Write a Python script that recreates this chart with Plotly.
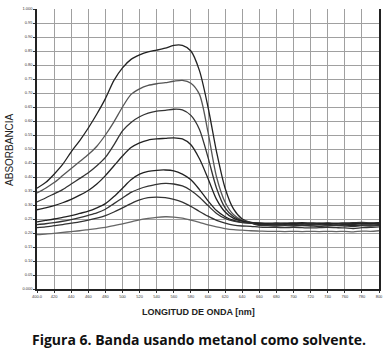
import plotly.graph_objects as go

wavelength = list(range(400, 801, 10))

c1 = [0.360,0.380,0.410,0.445,0.490,0.530,0.575,0.625,0.680,0.745,0.790,0.820,0.836,0.847,0.853,0.860,0.870,0.870,0.850,0.780,0.650,0.490,0.360,0.285,0.250,0.238,
      0.236,0.235,0.236,0.235,0.236,0.237,0.236,0.235,0.236,0.235,0.236,0.237,0.238,0.236,0.237]
c2 = [0.343,0.360,0.380,0.405,0.430,0.455,0.480,0.510,0.550,0.597,0.650,0.695,0.715,0.727,0.733,0.737,0.742,0.745,0.735,0.695,0.560,0.400,0.310,0.265,0.245,0.238,
      0.234,0.233,0.234,0.235,0.234,0.233,0.234,0.235,0.234,0.233,0.232,0.234,0.236,0.235,0.234]
c3 = [0.311,0.325,0.340,0.355,0.375,0.395,0.415,0.440,0.470,0.515,0.565,0.595,0.615,0.628,0.635,0.638,0.642,0.640,0.620,0.570,0.470,0.360,0.290,0.258,0.243,0.236,
      0.233,0.232,0.233,0.232,0.231,0.232,0.233,0.232,0.231,0.232,0.233,0.231,0.233,0.232,0.233]
c4 = [0.283,0.290,0.298,0.308,0.320,0.335,0.352,0.375,0.405,0.440,0.475,0.505,0.522,0.532,0.536,0.538,0.540,0.536,0.515,0.465,0.395,0.320,0.275,0.252,0.242,0.237,
      0.234,0.233,0.232,0.233,0.234,0.233,0.232,0.233,0.234,0.233,0.232,0.233,0.235,0.234,0.236]
c5 = [0.240,0.245,0.250,0.256,0.262,0.270,0.278,0.290,0.305,0.330,0.360,0.390,0.410,0.420,0.424,0.425,0.422,0.410,0.390,0.355,0.315,0.280,0.258,0.245,0.238,0.235,
      0.230,0.229,0.228,0.229,0.228,0.227,0.228,0.229,0.228,0.227,0.228,0.226,0.229,0.228,0.230]
c6 = [0.230,0.233,0.237,0.242,0.248,0.255,0.263,0.272,0.285,0.305,0.325,0.345,0.358,0.367,0.374,0.377,0.375,0.368,0.352,0.328,0.298,0.270,0.252,0.242,0.237,0.235,
      0.227,0.226,0.225,0.226,0.225,0.226,0.225,0.224,0.225,0.226,0.225,0.224,0.226,0.225,0.227]
c7 = [0.219,0.222,0.226,0.230,0.235,0.240,0.246,0.253,0.262,0.275,0.290,0.305,0.318,0.326,0.328,0.326,0.320,0.310,0.295,0.277,0.260,0.245,0.235,0.228,0.225,0.224,
      0.221,0.220,0.220,0.219,0.220,0.219,0.218,0.219,0.220,0.219,0.218,0.216,0.219,0.220,0.222]
c8 = [0.194,0.196,0.199,0.202,0.205,0.208,0.212,0.216,0.220,0.226,0.233,0.240,0.247,0.252,0.256,0.258,0.257,0.253,0.246,0.238,0.229,0.222,0.216,0.212,0.210,0.208,
      0.207,0.206,0.206,0.205,0.206,0.205,0.206,0.205,0.206,0.205,0.206,0.204,0.207,0.206,0.208]

series = [c1, c2, c3, c4, c5, c6, c7, c8]
colors = ["#222222", "#555555", "#333333", "#222222", "#222222", "#333333", "#333333", "#666666"]

x_ticks = list(range(400, 801, 20))
x_ticktext = ["400.0"] + [str(v) for v in x_ticks[1:]]
y_ticks = [round(i * 0.05, 2) for i in range(21)]
y_ticktext = ["0.000"] + [f"{v:.2f}" for v in y_ticks[1:-1]] + ["1.000"]

fig = go.Figure()
for s, c in zip(series, colors):
    fig.add_trace(go.Scatter(x=wavelength, y=s, mode="lines",
                             line=dict(color=c, width=1.3, shape="spline", smoothing=0.8),
                             showlegend=False, hoverinfo="skip"))

fig.update_layout(
    width=389, height=357,
    margin=dict(l=37, r=6, t=6, b=68),
    paper_bgcolor="white", plot_bgcolor="white",
    font=dict(family="Arial, Liberation Sans, sans-serif", color="#222"),
)
fig.update_xaxes(range=[400, 800], tickvals=x_ticks, ticktext=x_ticktext,
                 tickfont=dict(size=4, color="#333"),
                 showgrid=True, gridcolor="#a0a0a0", gridwidth=1,
                 showline=True, linecolor="#222", linewidth=1.5, mirror=False,
                 ticks="outside", ticklen=2, tickcolor="#333", zeroline=False)
fig.update_yaxes(range=[0, 1], tickvals=y_ticks, ticktext=y_ticktext,
                 tickfont=dict(size=4, color="#333"),
                 showgrid=True, gridcolor="#a0a0a0", gridwidth=1,
                 showline=True, linecolor="#222", linewidth=1.5, mirror=True,
                 ticks="outside", ticklen=2, tickcolor="#333", zeroline=False)

fig.add_annotation(text="ABSORBANCIA", xref="paper", yref="paper", x=-0.082, y=0.5,
                   textangle=-90, showarrow=False, font=dict(size=10, color="#222"),
                   xanchor="center", yanchor="middle")
fig.add_annotation(text="<b>LONGITUD DE ONDA [nm]</b>", xref="paper", yref="paper",
                   x=0.473, y=-0.081, showarrow=False, font=dict(size=9, color="#222"),
                   xanchor="center", yanchor="middle")
fig.add_annotation(text="<b>Figura 6. Banda usando metanol como solvente.</b>", xref="paper", yref="paper",
                   x=0.474, y=-0.18, showarrow=False,
                   font=dict(size=14, color="#111", family="Open Sans, Lato, sans-serif"),
                   xanchor="center", yanchor="middle")

fig.write_html("out.html", config={"displayModeBar": False},
               post_script="document.body.style.margin='0';")
